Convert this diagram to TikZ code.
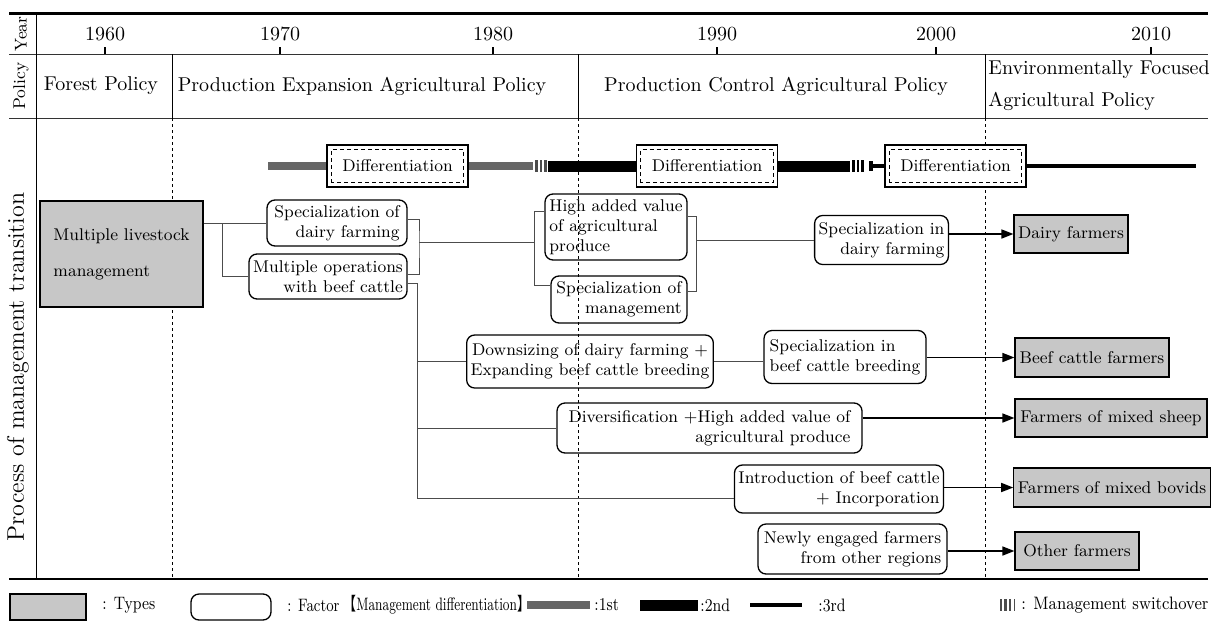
\documentclass[tikz,border=0pt]{standalone}
\usepackage{graphicx}
\usepackage{fontspec}
\newfontfamily\cjk{Noto Sans CJK JP}
\usetikzlibrary{arrows.meta,calc}

\begin{document}
\begin{tikzpicture}[x=0.5pt,y=-0.5pt,
    facteur/.style={draw,rounded corners=4pt,line width=0.65pt,inner sep=2pt,font=\fontsize{8.5}{10}\selectfont},
    type/.style={draw,fill=black!22,line width=0.6pt,inner sep=2pt,font=\fontsize{8.5}{10}\selectfont},
    diff/.style={draw,line width=0.65pt,minimum width=70.5pt,minimum height=21pt,fill=white,font=\fontsize{8.5}{10}\selectfont},
    lien/.style={black!70,line width=0.5pt},
    fleche/.style={black,line width=0.8pt,-{Triangle[length=6pt,width=4.5pt]}},
    barre1/.style={black!60,line width=4pt},
    barre2/.style={black,line width=5.5pt},
    barre3/.style={black,line width=2pt},
    bascule/.style={line width=1.2pt},
    legende/.style={font=\fontsize{9}{11}\selectfont,anchor=west,inner sep=0pt}]
    \useasboundingbox (0,0) rectangle (1218,621);

    % Cadre du tableau
    \draw[line width=1.5pt] (9,13) -- (1208,13);
    \draw[black!80,line width=0.5pt] (9,54) -- (1208,54);
    \draw[black!80,line width=0.5pt] (9,118) -- (1208,118);
    \draw[line width=0.8pt] (9,579) -- (1208,579);
    \draw[line width=0.5pt] (36,13) -- (36,579);

    % Séparations des politiques
    \foreach \x in {172,578,985} {
        \draw[line width=0.5pt] (\x,54) -- (\x,118);
        \draw[line width=0.4pt,dash pattern=on 1.5pt off 1.5pt] (\x,118) -- (\x,579);
    }

    % Années
    \foreach \x/\annee in {105/1960,280/1970,493/1980,717/1990,936/2000,1151/2010} {
        \draw[line width=1.4pt] (\x,47) -- (\x,54);
        \node (an\annee) at (\x,34) {\annee};
    }

    % Titres des lignes
    \node[rotate=90,font=\fontsize{8.5}{10}\selectfont] (lannee) at (21,34) {Year};
    \node[rotate=90,font=\fontsize{8.5}{10}\selectfont] (lpolitique) at (21,86) {Policy};
    \node[rotate=90,font=\fontsize{12}{14}\selectfont] (lprocessus) at (18,367) {Process of management transition};

    % Politiques
    \node (pforet) at (101,86) {Forest Policy};
    \node (pexpansion) at (362,86) {Production Expansion Agricultural Policy};
    \node (pcontrole) at (776,86) {Production Control Agricultural Policy};
    \node[anchor=west,align=left,inner sep=0pt] (penvironnement) at (988,86) {Environmentally Focused\\[4pt]Agricultural Policy};

    % Différenciation
    \node[diff] (d1) at (397.5,166) {Differentiation};
    \node[diff] (d2) at (707,166) {Differentiation};
    \node[diff] (d3) at (955.5,166) {Differentiation};
    \foreach \d in {d1,d2,d3} {
        \draw[line width=0.4pt,dash pattern=on 2pt off 1.5pt] ($(\d.south west)+(5,-5)$) rectangle ($(\d.north east)+(-5,5)$);
    }
    \coordinate (b1a) at (268,166);
    \coordinate (b1b) at (533,166);
    \coordinate (b2a) at (548,166);
    \coordinate (b2b) at (850,166);
    \coordinate (b3a) at (869,166);
    \coordinate (b3b) at (1196,166);
    \draw[barre1] (b1a) -- (d1.west);
    \draw[barre1] (d1.east) -- (b1b);
    \foreach \x in {536.5,541,545.5} \draw[bascule,black!70] (\x,160) -- (\x,172);
    \draw[barre2] (b2a) -- (d2.west);
    \draw[barre2] (d2.east) -- (b2b);
    \foreach \x in {853.5,858,862.5} \draw[bascule] (\x,160) -- (\x,172);
    \draw[barre3,{Bar[width=5pt]}-] (b3a) -- (d3.west);
    \draw[barre3] (d3.east) -- (b3b);

    % Types et facteurs
    \node[type,minimum width=81.5pt,minimum height=53pt,align=left] (elevage) at (121.5,254) {Multiple livestock\\[8pt]management};
    \node[facteur,minimum width=70pt,minimum height=23pt,align=right] (laitspec) at (337,223) {Specialization of\\dairy farming};
    \node[facteur,minimum width=79pt,minimum height=22.5pt,align=right] (bovinsmult) at (328,276.5) {Multiple operations\\with beef cattle};
    \node[facteur,minimum width=71pt,minimum height=33pt,align=left] (valeur) at (616,227) {High added value\\of agricultural\\produce};
    \node[facteur,minimum width=68pt,minimum height=23.5pt,align=right] (gestion) at (619,299.5) {Specialization of\\management};
    \node[facteur,minimum width=66.5pt,minimum height=24.5pt,align=right] (laitspecb) at (881.5,240) {Specialization in\\dairy farming};
    \node[type,minimum width=57pt,minimum height=19pt] (laitiers) at (1071,234) {Dairy farmers};
    \node[facteur,minimum width=123pt,minimum height=26.5pt,align=center] (reduction) at (590,361.5) {Downsizing of dairy farming +\\Expanding beef cattle breeding};
    \node[facteur,minimum width=81pt,minimum height=26.5pt,align=left] (naisseur) at (845,357) {Specialization in\\beef cattle breeding};
    \node[type,minimum width=77pt,minimum height=19.5pt] (bovins) at (1092,357.5) {Beef cattle farmers};
    \node[facteur,minimum width=152.5pt,minimum height=25pt,align=right] (diversif) at (709.5,428) {Diversification +High added value of\\agricultural produce};
    \node[type,minimum width=96pt,minimum height=19pt] (ovins) at (1111,418) {Farmers of mixed sheep};
    \node[facteur,minimum width=103pt,minimum height=24pt,align=right] (introduction) at (839,489) {Introduction of beef cattle\\+ Incorporation};
    \node[type,minimum width=97pt,minimum height=19.5pt] (bovides) at (1112,487.5) {Farmers of mixed bovids};
    \node[facteur,minimum width=94.5pt,minimum height=25pt,align=right] (nouveaux) at (852.5,549) {Newly engaged farmers\\from other regions};
    \node[type,minimum width=62pt,minimum height=19pt] (autres) at (1077,551) {Other farmers};

    % Liaisons
    \coordinate (j1) at (222,223);
    \coordinate (c1) at (419,242);
    \coordinate (c2) at (534,242);
    \coordinate (c3) at (696,240);
    \coordinate (c4) at (417,283);
    \coordinate (c5) at (417,498);
    \draw[lien] (laitspec.west -| elevage.east) -- (laitspec.west);
    \draw[lien] (j1) |- (bovinsmult.west);
    \draw[lien] ($(laitspec.east)+(0,-4)$) -| (c1) |- ($(bovinsmult.east)+(0,-2.5)$);
    \draw[lien] (c1) -- (c2);
    \draw[lien] ($(valeur.west)+(0,-16)$) -| (c2) |- ($(gestion.west)+(0,-14.5)$);
    \draw[lien] ($(valeur.east)+(0,-11)$) -| (c3) |- ($(gestion.east)+(0,-8.5)$);
    \draw[lien] (c3) -- (laitspecb.west);
    \draw[lien] ($(bovinsmult.east)+(0,6.5)$) -- (c4) -- (c5) -- (c5 -| introduction.west);
    \draw[lien] (c4 |- reduction.west) -- (reduction.west);
    \draw[lien] (c4 |- diversif.west) -- (diversif.west);
    \draw[lien] (reduction.east) -- (reduction.east -| naisseur.west);
    \draw[fleche] (laitspecb.east |- laitiers.west) -- (laitiers.west);
    \draw[fleche] (naisseur.east |- bovins.west) -- (bovins.west);
    \draw[fleche] (diversif.east |- ovins.west) -- (ovins.west);
    \draw[fleche] (introduction.east |- bovides.west) -- (bovides.west);
    \draw[fleche] (nouveaux.east |- autres.west) -- (autres.west);

    % Légende
    \node[type,minimum width=38pt,minimum height=13pt] (legtype) at (48,607) {};
    \node[legende] (legtypetxt) at (102,605) {\scalebox{0.85}[1]{: Types}};
    \node[facteur,minimum width=40pt,minimum height=13pt] (legfacteur) at (231,607) {};
    \node[legende] (legfacteurtxt) at (287,605) {\scalebox{0.8}[1]{: Factor}};
    \node[legende] (legdiff) at (343,605) {\scalebox{0.72}[1]{{\cjk 【}Management differentiation{\cjk 】}}};
    \coordinate (l1a) at (527,605);
    \coordinate (l1b) at (590,605);
    \coordinate (l2a) at (640,605);
    \coordinate (l2b) at (698,605);
    \coordinate (l3a) at (750,605);
    \coordinate (l3b) at (802,605);
    \draw[barre1] (l1a) -- (l1b);
    \node[legende] (leg1) at (594,605) {\scalebox{0.85}[1]{:1st}};
    \draw[barre2] (l2a) -- (l2b);
    \node[legende] (leg2) at (700,605) {\scalebox{0.85}[1]{:2nd}};
    \draw[barre3] (l3a) -- (l3b);
    \node[legende] (leg3) at (818,605) {\scalebox{0.85}[1]{:3rd}};
    \foreach \x in {1001,1005.5,1010} \draw[bascule,black!70] (\x,599) -- (\x,611);
    \draw[line width=0.5pt,black!70] (1014,599) -- (1014,611);
    \node[legende] (legbascule) at (1021,605) {\scalebox{0.9}[1]{: Management switchover}};
\end{tikzpicture}
\end{document}
